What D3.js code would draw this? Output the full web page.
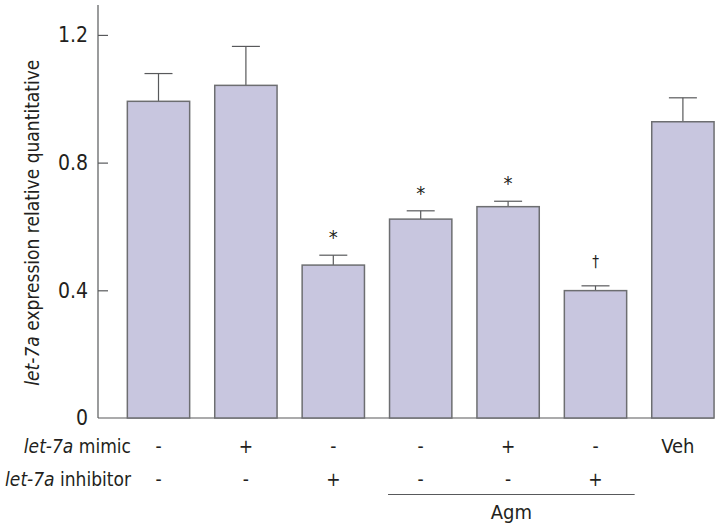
<!DOCTYPE html>
<html>
<head>
<meta charset="utf-8">
<script src="https://cdn.jsdelivr.net/npm/d3@7"></script>
<style>
  body { margin: 0; background: #fff; }
  svg text { font-family: "Liberation Sans Narrow", "DejaVu Sans Condensed", "Roboto", sans-serif; fill: #231f20; }
</style>
</head>
<body>
<div id="chart"></div>
<script>
var groups = ["g1", "g2", "g3", "g4", "g5", "g6", "g7"];
var means = [0.992, 1.042, 0.479, 0.623, 0.662, 0.399, 0.928];
var errors = [0.087, 0.122, 0.031, 0.026, 0.017, 0.015, 0.075];
var marks = ["", "", "*", "*", "*", "\u2020", ""];
var mimicRow = ["-", "+", "-", "-", "+", "-", "Veh"];
var inhibitorRow = ["-", "-", "+", "-", "-", "+", ""];
var yTicks = [0, 0.4, 0.8, 1.2];

var width = 720,
    height = 532;

var svg = d3.select("#chart")
    .append("svg")
    .attr("width", width)
    .attr("height", height);

var y = d3.scaleLinear()
    .domain([0, 1.3])
    .range([418, 3]);

var x = d3.scaleBand()
    .domain(groups)
    .range([114.8, 726.6])
    .paddingInner(0.287)
    .paddingOuter(0.1435);

// axes
svg.append("line")
    .attr("x1", 98).attr("x2", 98)
    .attr("y1", y(0)).attr("y2", 5)
    .attr("stroke", "#58595b").attr("stroke-width", 1.2);

svg.append("line")
    .attr("x1", 98).attr("x2", 714)
    .attr("y1", y(0)).attr("y2", y(0))
    .attr("stroke", "#58595b").attr("stroke-width", 1.2);

var yAxis = svg.append("g")
    .attr("transform", "translate(98,0)")
    .call(d3.axisRight(y).tickValues(yTicks).tickSize(10).tickFormat(d3.format(".1f")));

yAxis.select(".domain").remove();
yAxis.selectAll(".tick line").attr("stroke", "#58595b").attr("stroke-width", 1.2)
    .style("display", function (d) { return d == 0 ? "none" : null; });
yAxis.selectAll(".tick text")
    .attr("x", -10)
    .attr("text-anchor", "end")
    .style("font-size", "21px")
    .text(function (d) { return d == 0 ? "0" : d3.format(".1f")(d); });

// y label
var ylab = svg.append("text")
    .attr("transform", "translate(39," + y(0.612) + ") rotate(-90)")
    .attr("text-anchor", "middle")
    .style("font-size", "19px");
ylab.append("tspan").style("font-style", "italic").text("let-7a");
ylab.append("tspan").text(" expression relative quantitative");

// error bars
var err = svg.append("g");
groups.forEach(function (g, i) {
    var cx = x(g) + x.bandwidth() / 2;
    err.append("line")
        .attr("x1", cx).attr("x2", cx)
        .attr("y1", y(means[i])).attr("y2", y(means[i] + errors[i]))
        .attr("stroke", "#58595b").attr("stroke-width", 1.2);
    err.append("line")
        .attr("x1", cx - 14).attr("x2", cx + 14)
        .attr("y1", y(means[i] + errors[i])).attr("y2", y(means[i] + errors[i]))
        .attr("stroke", "#58595b").attr("stroke-width", 1.2);
});

// bars
svg.selectAll("rect.bar")
    .data(groups)
    .enter()
    .append("rect")
    .attr("class", "bar")
    .attr("x", function (d) { return x(d); })
    .attr("y", function (d, i) { return y(means[i]); })
    .attr("width", x.bandwidth())
    .attr("height", function (d, i) { return y(0) - y(means[i]); })
    .attr("fill", "#c8c6df")
    .attr("stroke", "#6d6e71")
    .attr("stroke-width", 1.5);

// significance marks
svg.selectAll("text.mark")
    .data(groups)
    .enter()
    .append("text")
    .attr("class", "mark")
    .attr("x", function (d) { return x(d) + x.bandwidth() / 2; })
    .attr("y", function (d, i) { return y(means[i] + errors[i]) - (marks[i] == "*" ? 11 : 19); })
    .attr("text-anchor", "middle")
    .style("font-size", function (d, i) { return marks[i] == "*" ? "20px" : "15px"; })
    .text(function (d, i) { return marks[i]; });

// condition rows
function rowLabel(yy, name) {
    var t = svg.append("text")
        .attr("x", 131).attr("y", yy)
        .attr("text-anchor", "end")
        .style("font-size", "19px");
    t.append("tspan").style("font-style", "italic").text("let-7a");
    t.append("tspan").text(" " + name);
}
rowLabel(453, "mimic");
rowLabel(486, "inhibitor");

svg.selectAll("text.mimic")
    .data(groups)
    .enter()
    .append("text")
    .attr("class", "mimic")
    .attr("x", function (d, i) { return x(d) + x.bandwidth() / 2 - (i == 6 ? 5 : 0); })
    .attr("y", 453)
    .attr("text-anchor", "middle")
    .style("font-size", function (d, i) { return i == 6 ? "20px" : "19px"; })
    .text(function (d, i) { return mimicRow[i]; });

svg.selectAll("text.inhib")
    .data(groups)
    .enter()
    .append("text")
    .attr("class", "inhib")
    .attr("x", function (d) { return x(d) + x.bandwidth() / 2; })
    .attr("y", 486)
    .attr("text-anchor", "middle")
    .style("font-size", "19px")
    .text(function (d, i) { return inhibitorRow[i]; });

// Agm bracket
svg.append("line")
    .attr("x1", x("g4") - 1.5).attr("x2", x("g6") + x.bandwidth() + 8)
    .attr("y1", 494.5).attr("y2", 494.5)
    .attr("stroke", "#58595b").attr("stroke-width", 1.2);

svg.append("text")
    .attr("x", (x("g4") - 1.5 + x("g6") + x.bandwidth() + 8) / 2)
    .attr("y", 519)
    .attr("text-anchor", "middle")
    .style("font-size", "20px")
    .text("Agm");
</script>
</body>
</html>
